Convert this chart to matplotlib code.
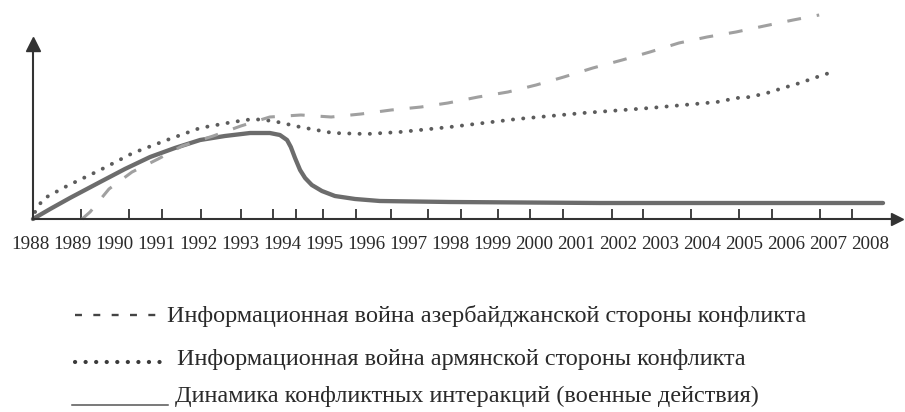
import matplotlib
matplotlib.use("Agg")
import matplotlib.pyplot as plt

plt.rcParams["font.family"] = ["Liberation Serif", "DejaVu Serif"]
plt.rcParams["lines.scale_dashes"] = False

# year labels along the x axis
years = list(range(1988, 2009))
year_labels = [str(y) for y in years]

# tick marks drawn on the axis (the scheme does not align them with the years)
tick_positions = [1989.21, 1990.36, 1991.14, 1992.07, 1993.02, 1993.79, 1994.33,
                  1994.98, 1995.76, 1996.60, 1997.48, 1998.26, 1999.14, 1999.90,
                  2000.69, 2001.86, 2002.60, 2003.74, 2004.88, 2005.67, 2006.81,
                  2007.57]

# military actions (solid)
war_x = [1988.07, 1988.48, 1988.95, 1989.67, 1990.26, 1990.86, 1991.45, 1992.05,
         1992.64, 1993.24, 1993.71, 1993.95, 1994.12, 1994.21, 1994.31, 1994.43,
         1994.55, 1994.71, 1994.95, 1995.26, 1995.74, 1996.33, 1998.0, 2001.57,
         2008.31]
war_y = [0, 5, 10.5, 18.5, 25, 31, 35.5, 39.5, 41.5, 43, 43, 42, 39.5, 36, 30.5,
         24.5, 20.5, 17, 14, 11.5, 10, 9, 8.5, 8, 8]

# information war, Armenian side (dotted)
arm_x = [1988.12, 1988.31, 1988.88, 1989.67, 1990.45, 1991.26, 1992.05, 1992.83,
         1993.31, 1993.79, 1994.43, 1995.21, 1996.02, 1996.81, 1998.0, 1999.6,
         2001.17, 2002.76, 2004.36, 2004.83, 2005.14, 2005.55, 2005.93, 2006.33,
         2006.74, 2007.1]
arm_y = [3.5, 10, 16.5, 24.5, 33, 39.5, 45.5, 48.5, 50, 49, 46, 43, 42.5, 43.5,
         46, 50, 53, 55.5, 58.5, 60.5, 61, 63, 65.5, 68, 71, 73.5]

# information war, Azerbaijani side (dashed)
aze_x = [1989.24, 1989.43, 1989.88, 1990.43, 1991.05, 1991.62, 1992.36, 1993.02,
         1993.71, 1994.45, 1995.17, 1995.88, 1996.6, 1997.31, 1997.95, 1998.67,
         1999.38, 2000.05, 2000.71, 2001.4, 2002.1, 2002.76, 2003.45, 2004.12,
         2004.81, 2005.48, 2006.17, 2006.79]
aze_y = [0, 3.5, 15, 23.5, 30, 36.5, 41.5, 46.5, 51, 52, 51, 52.5, 54.5, 56, 58,
         61, 63.5, 67, 71, 75.5, 79.5, 83.5, 88, 91, 93.5, 96.5, 99.5, 102]

legend_labels = [
    "Информационная война азербайджанской стороны конфликта",
    "Информационная война армянской стороны конфликта",
    "Динамика конфликтных интеракций (военные действия)",
]

INK = "#2a2a2a"


def main() -> None:
    fig = plt.figure(figsize=(9.05, 4.12), dpi=100)
    fig.patch.set_facecolor("white")

    # legend layer in pixel coordinates
    lax = fig.add_axes([0, 0, 1, 1], zorder=0)
    lax.set_xlim(0, 905)
    lax.set_ylim(412, 0)
    lax.axis("off")

    ax = fig.add_axes([0, 193 / 412, 1, 219 / 412], zorder=1)
    ax.patch.set_alpha(0)
    ax.set_xlim(1987.2857, 2008.8333)
    ax.set_ylim(0, 109.5)

    x0 = 1988.07
    x_end = 2008.64
    y_top = 87.5
    for side in ("top", "right"):
        ax.spines[side].set_visible(False)
    ax.spines["left"].set_position(("data", x0))
    ax.spines["left"].set_bounds(0, y_top)
    ax.spines["bottom"].set_bounds(x0, x_end)
    for side in ("left", "bottom"):
        ax.spines[side].set_color("#333333")
        ax.spines[side].set_linewidth(1.5)

    ax.set_yticks([])
    ax.set_xticks(tick_positions)
    ax.set_xticks(years, minor=True)
    ax.set_xticklabels(year_labels, minor=True)
    ax.tick_params(axis="x", which="major", direction="in", length=7.2, width=1.3,
                   color="#333333", labelbottom=False)
    ax.tick_params(axis="x", which="minor", length=0, pad=12, labelsize=13.8,
                   labelcolor=INK)

    ax.plot(x0, y_top, marker="^", ms=10, color="#333333", clip_on=False)
    ax.plot(x_end, 0, marker=">", ms=8.5, color="#333333", clip_on=False)

    ax.plot(war_x, war_y, color="#6c6c6c", lw=3.1, solid_capstyle="round", clip_on=False)
    ax.plot(arm_x, arm_y, color="#5c5c5c", lw=2.8, linestyle=(0, (0.1, 7.3)),
            dash_capstyle="round", clip_on=False)
    ax.plot(aze_x, aze_y, color="#a0a0a0", lw=2.2, linestyle=(0, (10, 11.5)),
            clip_on=False)

    # legend
    lax.plot([75, 162], [315, 315], color="#444444", lw=1.7, linestyle=(0, (5, 8.2)))
    lax.plot([75, 166], [362, 362], color="#3a3a3a", lw=3.0, linestyle=(0, (0.1, 7.5)),
             dash_capstyle="round")
    lax.plot([72, 168], [405, 405], color="#555555", lw=1.1)
    lax.text(167, 322, legend_labels[0], fontsize=17.5, color=INK, va="baseline")
    lax.text(177, 365, legend_labels[1], fontsize=17.5, color=INK, va="baseline")
    lax.text(175, 402, legend_labels[2], fontsize=17.5, color=INK, va="baseline")

    fig.savefig("out.png", dpi=100)
    plt.close(fig)


if __name__ == "__main__":
    main()
